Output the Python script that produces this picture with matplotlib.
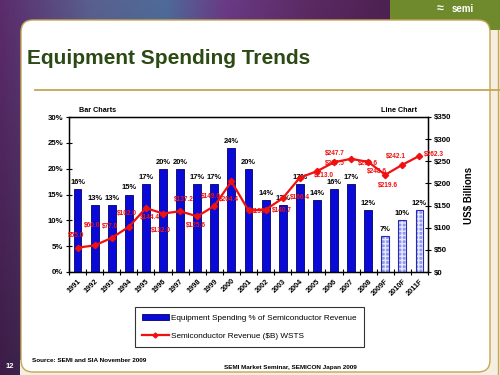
import numpy as np
import matplotlib
matplotlib.use("Agg")
import matplotlib.pyplot as plt
from matplotlib.patches import Rectangle, FancyBboxPatch, Patch
from matplotlib.lines import Line2D
from matplotlib.colors import LinearSegmentedColormap

plt.rcParams['font.family'] = ['Liberation Sans', 'DejaVu Sans']

# ---- data ----
years = ["1991", "1992", "1993", "1994", "1995", "1996", "1997", "1998", "1999", "2000",
         "2001", "2002", "2003", "2004", "2005", "2006", "2007", "2008", "2009F", "2010F", "2011F"]
equip_pct = [16, 13, 13, 15, 17, 20, 20, 17, 17, 24, 20, 14, 13, 17, 14, 16, 17, 12, 7, 10, 12]
revenue = [55.0, 60.0, 77.0, 102.0, 144.4, 132.0, 137.2, 125.6, 149.0, 204.4, 139.0, 140.7,
           166.4, 213.0, 227.5, 247.7, 255.6, 248.6, 219.6, 242.1, 262.3]
forecast = [False] * 18 + [True] * 3
pct_ticks = [0, 5, 10, 15, 20, 25, 30]
usd_ticks = [0, 50, 100, 150, 200, 250, 300, 350]

# label offsets (pixels) for revenue labels
lab_off = [(-1, 12), (-3, 20), (-2, 11), (-2, 13), (4, -9), (-2, -17), (4, 12), (-1, -9),
           (-3, 10), (-2, -18), (12, -1), (16, -1), (17, 1), (24, 2), (18, 8), (1, 9),
           (17, -5), (9, -10), (3, -11), (-6, 8), (15, 1)]

W, H = 500, 375
fig = plt.figure(figsize=(5, 3.75), dpi=100)

# ---- slide background ----
bg = fig.add_axes([0, 0, 1, 1])
bg.set_xlim(0, W)
bg.set_ylim(H, 0)
bg.axis('off')
cm = LinearSegmentedColormap.from_list('bgc', [
    (0.0, '#5c2c6c'), (0.18, '#59608f'), (0.33, '#4f6b99'), (0.45, '#6a3a86'),
    (0.62, '#5a2a62'), (0.8, '#4c2050'), (1.0, '#4a1f4e')])
xs = np.linspace(0, 1, 300)
ys = np.linspace(0, 1, 200)[:, None]
grad = cm(xs)[None, :, :3] * (1 - 0.35 * ys[:, :, None])
bg.imshow(grad, extent=[0, W, H, 0], aspect='auto', zorder=0)
# green block
bg.add_patch(Rectangle((390, 0), 110, 30, facecolor='#6e8a2c', edgecolor='none', zorder=1))
bg.text(463, 9, "semi", color='white', fontsize=7, fontweight='bold', ha='center', va='center', zorder=2)
bg.text(440, 9, "\u2248", color='white', fontsize=9, fontweight='bold', ha='center', va='center', zorder=2)
# cream right/bottom strips
bg.add_patch(Rectangle((470, 30), 30, 345, facecolor='#f4efe0', edgecolor='none', zorder=1))
bg.add_patch(Rectangle((20, 360), 480, 15, facecolor='#f4efe0', edgecolor='none', zorder=1))
bg.plot([498, 498], [30, 375], color='#c9a453', lw=1, zorder=2)
# white panel
bg.add_patch(FancyBboxPatch((21, 20), 469, 352, boxstyle="round,pad=0,rounding_size=12",
                            facecolor='white', edgecolor='#c9a453', lw=1, zorder=3))
bg.text(27, 58, "Equipment Spending Trends", color='#2b4a14', fontsize=15,
        fontweight='bold', ha='left', va='center', zorder=4)
bg.plot([35, 500], [89.5, 89.5], color='#c9a453', lw=1.3, zorder=4)
bg.text(10, 366, "12", color='white', fontsize=5.5, fontweight='bold', ha='center', va='center', zorder=4)
bg.text(32, 360, "Source: SEMI and SIA November 2009", fontsize=4.6, fontweight='bold',
        ha='left', va='center', zorder=4)
bg.text(290, 368, "SEMI Market Seminar, SEMICON Japan 2009", fontsize=4.6, fontweight='bold',
        ha='center', va='center', zorder=4)
bg.text(98, 110, "Bar Charts", fontsize=5.2, fontweight='bold', ha='center', va='center', zorder=4)
bg.text(399, 110, "Line Chart", fontsize=5.2, fontweight='bold', ha='center', va='center', zorder=4)
bg.text(469, 195, "US$ Billions", fontsize=7, fontweight='bold', rotation=90,
        ha='center', va='center', zorder=4)

# ---- chart ----
L, R, T, B = 69, 428, 117, 272
ax = fig.add_axes([L / W, (H - B) / H, (R - L) / W, (B - T) / H])
ax.set_zorder(5)
ax.patch.set_alpha(0)
x = np.arange(len(years))
bw = 0.46
for xi, v, f in zip(x, equip_pct, forecast):
    if f:
        ax.bar(xi, v, width=bw, facecolor='#8f99ee', edgecolor='#e6e8ff', hatch='++++', lw=0, zorder=2)
        ax.bar(xi, v, width=bw, facecolor='none', edgecolor='#2a2ab0', lw=0.8, zorder=3)
    else:
        ax.bar(xi, v, width=bw, facecolor='#0a0ad8', edgecolor='#000066', lw=0.6, zorder=2)
    ax.text(xi, v + 0.6, f"{v}%", fontsize=5.4, fontweight='bold', ha='center', va='bottom', zorder=4)

ax.set_xlim(-0.5, len(years) - 0.5)
ax.set_ylim(0, 30)
ax.set_yticks(pct_ticks)
ax.set_yticklabels([f"{t}%" for t in pct_ticks], fontsize=5.6, fontweight='bold')
ax.set_xticks(x)
ax.set_xticklabels(years, rotation=45, ha='right', rotation_mode='anchor', fontsize=5.3, fontweight='bold')
ax.set_xticks(np.arange(len(years) + 1) - 0.5, minor=True)
ax.tick_params(axis='x', which='major', length=0, pad=4)
ax.tick_params(axis='x', which='minor', length=5, direction='inout', width=0.8)
ax.tick_params(axis='y', length=4, direction='inout', width=0.8, pad=2)
for s in ax.spines.values():
    s.set_linewidth(1)
    s.set_color('black')

ax2 = ax.twinx()
ax2.set_ylim(0, 350)
ax2.set_yticks(usd_ticks)
ax2.set_yticklabels([f"${t}" for t in usd_ticks], fontsize=5.6, fontweight='bold')
ax2.tick_params(axis='y', length=5, direction='inout', width=0.8, pad=2)
ax2.plot(x, revenue, color='#f01010', lw=1.6, marker='D', markersize=3.2, zorder=5)
for xi, v, (dx, dy) in zip(x, revenue, lab_off):
    ax2.annotate(f"${v:.1f}", (xi, v), xytext=(dx, dy), textcoords='offset pixels',
                 fontsize=4.7, fontweight='bold', color='#f01010', ha='center', va='center', zorder=6)

# ---- legend ----
handles = [Patch(facecolor='#0a0ad8', edgecolor='#000066', lw=0.6),
           Line2D([0], [0], color='#f01010', lw=1.6, marker='D', markersize=2.5)]
labels = ["Equipment Spending % of Semiconductor Revenue", "Semiconductor Revenue ($B) WSTS"]
leg = fig.legend(handles, labels, loc='upper left', bbox_to_anchor=(135 / W, (H - 307) / H),
                 fontsize=5.9, frameon=True, fancybox=False, edgecolor='black',
                 borderpad=0.9, labelspacing=1.3, handlelength=3.2, handleheight=0.6,
                 handletextpad=0.3, borderaxespad=0)
leg.get_frame().set_linewidth(0.8)
leg.set_zorder(6)

fig.savefig("out.png", dpi=100)
